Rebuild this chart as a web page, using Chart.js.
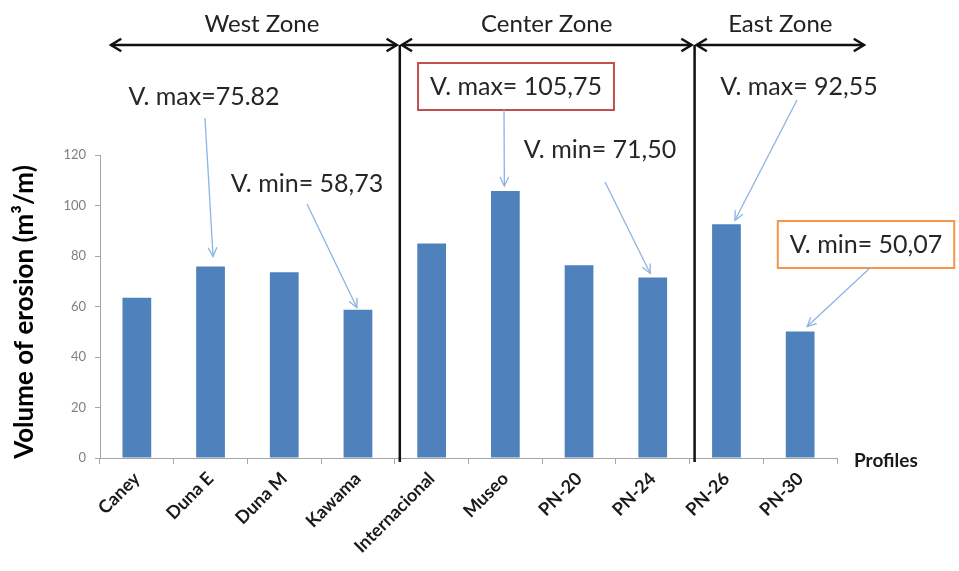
<!DOCTYPE html>
<html>
<head>
<meta charset="utf-8">
<script src="https://cdn.jsdelivr.net/npm/chart.js@4/dist/chart.umd.min.js"></script>
<style>
  html, body { margin: 0; padding: 0; background: #fff; }
  #wrap { width: 959px; height: 571px; }
</style>
</head>
<body>
<div id="wrap"><canvas id="erosion-chart" width="959" height="571"></canvas></div>
<script>
// data
const profiles = ['Caney', 'Duna E', 'Duna M', 'Kawama', 'Internacional', 'Museo', 'PN-20', 'PN-24', 'PN-26', 'PN-30'];
const erosionVolume = [63.5, 75.82, 73.6, 58.73, 85.0, 105.75, 76.3, 71.50, 92.55, 50.07];
const yMin = 0, yMax = 120, yStep = 20;

const zoneNames = ['West Zone', 'Center Zone', 'East Zone'];
const zoneFirstProfile = [0, 4, 8];

const calloutText = ['V. max=75.82', 'V. min= 58,73', 'V. max= 105,75', 'V. min= 71,50', 'V. max= 92,55', 'V. min= 50,07'];
const calloutProfile = [1, 3, 5, 7, 8, 9];

// where the callouts sit (layout only)
const calloutLayout = [
    { cx: 204, base: 105, sx: 205, sy: 118, dx: 2.5, gap: 10 },
    { cx: 307, base: 192, sx: 307, sy: 204, dx: -1, gap: 2 },
    { cx: 516, base: 95, sx: 504, sy: 110, dx: -1, gap: 5, box: '#c0504d' },
    { cx: 600, base: 158, sx: 605, sy: 182, dx: -2.5, gap: 4 },
    { cx: 799, base: 95, sx: 797, sy: 100, dx: 8.5, gap: 4 },
    { cx: 866, base: 253, sx: 870, sy: 268, dx: 7, gap: 5, box: '#f79646' }
];

Chart.defaults.font.family = 'Lato';

function arrowHead(ctx, fx, fy, tx, ty, len, spread) {
    const a = Math.atan2(ty - fy, tx - fx);
    ctx.beginPath();
    ctx.moveTo(tx - len * Math.cos(a - spread), ty - len * Math.sin(a - spread));
    ctx.lineTo(tx, ty);
    ctx.lineTo(tx - len * Math.cos(a + spread), ty - len * Math.sin(a + spread));
    ctx.stroke();
}

const extras = {
    id: 'extras',
    afterDraw(chart) {
        const { ctx, chartArea, scales: { x, y } } = chart;
        const half = (x.getPixelForValue(1) - x.getPixelForValue(0)) / 2;
        const arrowY = 45;

        // y axis title
        ctx.save();
        ctx.translate(25, 312);
        ctx.rotate(-Math.PI / 2);
        ctx.font = 'bold 26px Lato';
        ctx.fillStyle = '#000';
        ctx.textAlign = 'center';
        ctx.textBaseline = 'middle';
        ctx.fillText('Volume of erosion (m\u00b3/m)', 0, 0);
        ctx.restore();

        // "Profiles"
        ctx.save();
        ctx.font = 'bold 19px Lato';
        ctx.fillStyle = '#1a1a1a';
        ctx.textAlign = 'left';
        ctx.textBaseline = 'alphabetic';
        ctx.fillText('Profiles', chartArea.right + 17, 467);
        ctx.restore();

        // zone separators and zone arrows
        const lines = zoneFirstProfile.slice(1).map(i => x.getPixelForValue(i) - half + 5);
        ctx.save();
        ctx.strokeStyle = '#111';
        ctx.lineWidth = 2.5;
        lines.forEach(lx => {
            ctx.beginPath();
            ctx.moveTo(lx, arrowY);
            ctx.lineTo(lx, chartArea.bottom + 4);
            ctx.stroke();
        });
        const starts = [chartArea.left + 11].concat(lines.map(l => l + 2));
        const ends = lines.map(l => l - 3).concat([chartArea.right + 27]);
        ctx.font = '24px Lato';
        ctx.fillStyle = '#222';
        ctx.textAlign = 'center';
        zoneNames.forEach((name, i) => {
            const a = starts[i], b = ends[i];
            ctx.beginPath();
            ctx.moveTo(a, arrowY);
            ctx.lineTo(b, arrowY);
            ctx.stroke();
            arrowHead(ctx, b, arrowY, a, arrowY, 12, 0.55);
            arrowHead(ctx, a, arrowY, b, arrowY, 12, 0.55);
            ctx.fillText(name, (a + b) / 2 + (i === 0 ? 8 : 0), 32);
        });
        ctx.restore();

        // callouts
        ctx.save();
        ctx.font = '25px Lato';
        ctx.textAlign = 'center';
        ctx.textBaseline = 'alphabetic';
        calloutText.forEach((txt, i) => {
            const c = calloutLayout[i];
            const idx = calloutProfile[i];
            if (c.box) {
                const w = ctx.measureText(txt).width;
                ctx.strokeStyle = c.box;
                ctx.lineWidth = 2;
                ctx.strokeRect(c.cx - w / 2 - 12, c.base - 32, w + 24, 47);
            }
            ctx.fillStyle = '#262626';
            ctx.fillText(txt, c.cx, c.base);
            const tx = x.getPixelForValue(idx) + c.dx;
            const ty = y.getPixelForValue(erosionVolume[idx]) - c.gap;
            ctx.strokeStyle = '#8db3e2';
            ctx.lineWidth = 1.3;
            ctx.beginPath();
            ctx.moveTo(c.sx, c.sy);
            ctx.lineTo(tx, ty);
            ctx.stroke();
            arrowHead(ctx, c.sx, c.sy, tx, ty, 10, 0.45);
        });
        ctx.restore();
    }
};

new Chart(document.getElementById('erosion-chart').getContext('2d'), {
    type: 'bar',
    data: {
        labels: profiles,
        datasets: [{
            label: 'Volume of erosion',
            data: erosionVolume,
            backgroundColor: '#4f81bd',
            borderWidth: 0,
            barPercentage: 0.39,
            categoryPercentage: 1
        }]
    },
    options: {
        responsive: false,
        animation: false,
        layout: { padding: { top: 155, right: 122, left: 0, bottom: 0 } },
        plugins: { legend: { display: false }, tooltip: { enabled: false } },
        scales: {
            x: {
                afterFit: s => { s.height = 113; },
                grid: { drawOnChartArea: false, color: '#a6a6a6', tickLength: 6 },
                border: { color: '#a6a6a6', width: 1 },
                ticks: {
                    minRotation: 45, maxRotation: 45, padding: 4,
                    color: '#1a1a1a',
                    font: { family: 'Lato', size: 18, weight: 'bold' }
                }
            },
            y: {
                min: yMin, max: yMax,
                afterFit: s => { s.width = 100; },
                grid: { drawOnChartArea: false, color: '#a6a6a6', tickLength: 5 },
                border: { color: '#a6a6a6', width: 1 },
                ticks: {
                    stepSize: yStep, padding: 9,
                    color: '#7f7f7f',
                    font: { family: 'Lato', size: 13 }
                }
            }
        }
    },
    plugins: [extras]
});
</script>
</body>
</html>
